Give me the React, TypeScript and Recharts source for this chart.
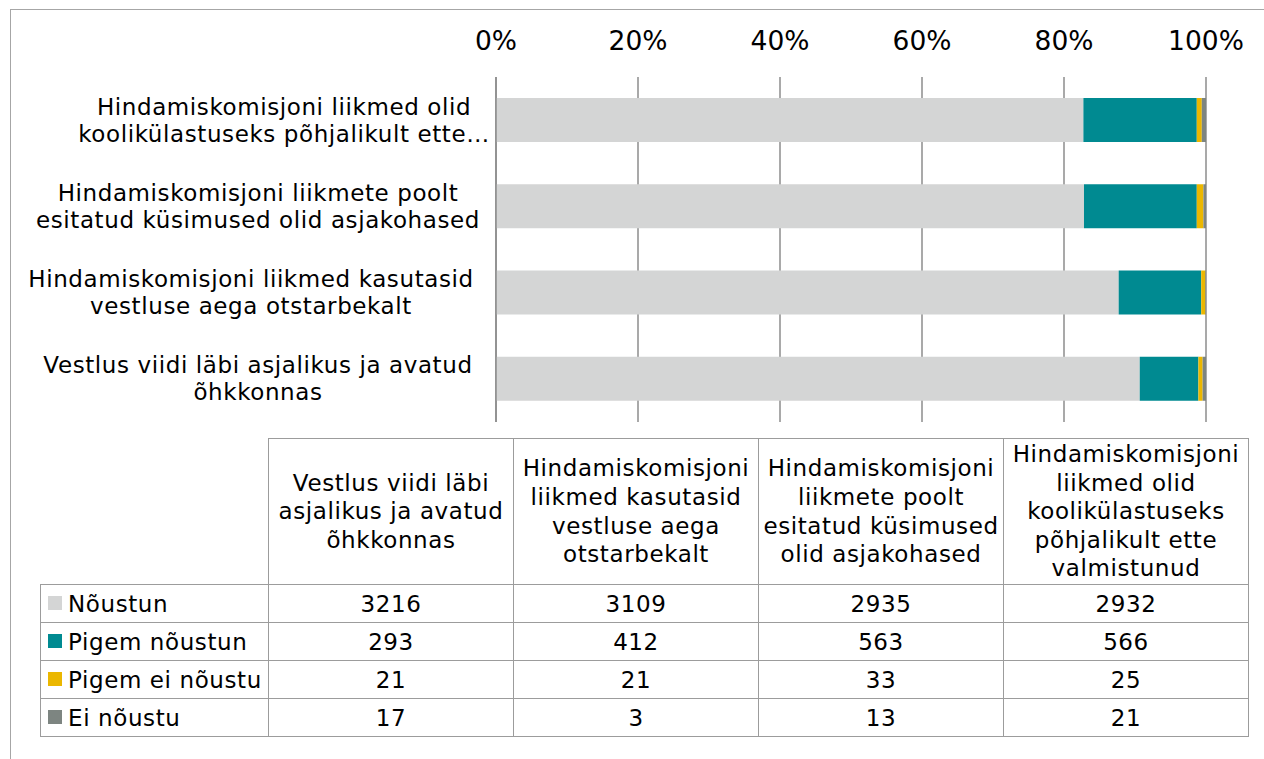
import React from "react";
import { BarChart, Bar, XAxis, YAxis, CartesianGrid } from "recharts";

const categories = [
  "Vestlus viidi läbi asjalikus ja avatud õhkkonnas",
  "Hindamiskomisjoni liikmed kasutasid vestluse aega otstarbekalt",
  "Hindamiskomisjoni liikmete poolt esitatud küsimused olid asjakohased",
  "Hindamiskomisjoni liikmed olid koolikülastuseks põhjalikult ette valmistunud",
];
const axisLabelLines = [
  ["Vestlus viidi läbi asjalikus ja avatud", "õhkkonnas"],
  ["Hindamiskomisjoni liikmed kasutasid", "vestluse aega otstarbekalt"],
  ["Hindamiskomisjoni liikmete poolt", "esitatud küsimused olid asjakohased"],
  ["Hindamiskomisjoni liikmed olid", "koolikülastuseks põhjalikult ette…"],
];
const tableHeaderLines = [
  ["Vestlus viidi läbi", "asjalikus ja avatud", "õhkkonnas"],
  ["Hindamiskomisjoni", "liikmed kasutasid", "vestluse aega", "otstarbekalt"],
  ["Hindamiskomisjoni", "liikmete poolt", "esitatud küsimused", "olid asjakohased"],
  ["Hindamiskomisjoni", "liikmed olid", "koolikülastuseks", "põhjalikult ette", "valmistunud"],
];
const seriesNames = ["Nõustun", "Pigem nõustun", "Pigem ei nõustu", "Ei nõustu"];
const noustun = [3216, 3109, 2935, 2932];
const pigemNoustun = [293, 412, 563, 566];
const pigemEiNoustu = [21, 21, 33, 25];
const eiNoustu = [17, 3, 13, 21];
const xTicks = [0, 0.2, 0.4, 0.6, 0.8, 1];

const seriesValues = [noustun, pigemNoustun, pigemEiNoustu, eiNoustu];
const seriesKeys = ["s0", "s1", "s2", "s3"];
const colors = ["#D4D5D5", "#008A91", "#EBB700", "#7D8581"];
// horizontal centre of each wrapped category label block
const labelCentres = [258, 251, 258, 284];

const data = categories.map((c, i) => ({
  name: c,
  idx: i,
  s0: noustun[i],
  s1: pigemNoustun[i],
  s2: pigemEiNoustu[i],
  s3: eiNoustu[i],
}));

const FONT = "'DejaVu Sans', Verdana, sans-serif";

const CatTick = (props: any) => {
  const { y, payload } = props;
  const idx = categories.indexOf(payload.value);
  const lines = axisLabelLines[idx] || [payload.value];
  const lh = 27;
  const startY = y - ((lines.length - 1) * lh) / 2;
  const cx = labelCentres[idx] ?? 266;
  return (
    <g>
      {lines.map((l: string, k: number) => (
        <text
          key={k}
          x={cx}
          y={startY + k * lh}
          textAnchor="middle"
          dominantBaseline="central"
          fontFamily={FONT}
          fontSize={23}
          letterSpacing={0.6}
          fill="#000"
        >
          {l}
        </text>
      ))}
    </g>
  );
};

const PctTick = (props: any) => {
  const { x, y, payload } = props;
  return (
    <text
      x={x}
      y={y - 35}
      textAnchor="middle"
      dominantBaseline="central"
      fontFamily={FONT}
      fontSize={26.5}
      fill="#000"
    >
      {Math.round(payload.value * 100) + "%"}
    </text>
  );
};

const border = "1.5px solid #9C9C9C";

export default function App() {
  return (
    <div
      style={{
        position: "absolute",
        left: 0,
        top: 0,
        width: 1264,
        height: 759,
        background: "#fff",
        overflow: "hidden",
        fontFamily: FONT,
      }}
    >
      <div
        style={{
          position: "absolute",
          left: 10,
          top: 9,
          width: 1300,
          height: 800,
          borderLeft: "1.5px solid #A6A6A6",
          borderTop: "1.5px solid #A6A6A6",
        }}
      />
      <div style={{ position: "absolute", left: 0, top: 0 }}>
        <BarChart
          width={1264}
          height={430}
          data={data}
          layout="vertical"
          stackOffset="expand"
          margin={{ top: 37, right: 58, bottom: 8, left: 16 }}
          barSize={44}
        >
          <CartesianGrid horizontal={false} vertical={true} stroke="#8C8C8C" strokeWidth={1.5} />
          <XAxis
            type="number"
            orientation="top"
            domain={[0, 1]}
            ticks={xTicks}
            height={40}
            axisLine={false}
            tickLine={false}
            tickSize={0}
            tick={<PctTick />}
          />
          <YAxis
            type="category"
            dataKey="name"
            reversed
            width={480}
            axisLine={{ stroke: "#8C8C8C", strokeWidth: 1.5 }}
            tickLine={false}
            tickSize={0}
            interval={0}
            tick={<CatTick />}
          />
          {seriesKeys.map((k, i) => (
            <Bar
              key={k}
              dataKey={k}
              name={seriesNames[i]}
              stackId="a"
              fill={colors[i]}
              isAnimationActive={false}
            />
          ))}
        </BarChart>
      </div>
      <table
        style={{
          position: "absolute",
          left: 40,
          top: 438,
          borderCollapse: "collapse",
          fontFamily: FONT,
          fontSize: 23,
          letterSpacing: 0.6,
          color: "#000",
          tableLayout: "fixed",
        }}
      >
        <colgroup>
          <col style={{ width: 228 }} />
          {categories.map((_, i) => (
            <col key={i} style={{ width: 245 }} />
          ))}
        </colgroup>
        <tbody>
          <tr style={{ height: 146 }}>
            <td style={{ padding: 0 }} />
            {tableHeaderLines.map((lines, i) => (
              <td
                key={i}
                style={{
                  border,
                  textAlign: "center",
                  verticalAlign: "middle",
                  lineHeight: "28.6px",
                  padding: 0,
                  whiteSpace: "nowrap",
                }}
              >
                {lines.map((l, k) => (
                  <div key={k}>{l}</div>
                ))}
              </td>
            ))}
          </tr>
          {seriesValues.map((vals, si) => (
            <tr key={si} style={{ height: 38 }}>
              <td
                style={{
                  border,
                  padding: 0,
                  paddingLeft: 7,
                  whiteSpace: "nowrap",
                  verticalAlign: "middle",
                }}
              >
                <span
                  style={{
                    display: "inline-block",
                    width: 14,
                    height: 14,
                    background: colors[si],
                    marginRight: 6,
                    verticalAlign: "middle",
                    position: "relative",
                    top: -2,
                  }}
                />
                {seriesNames[si]}
              </td>
              {vals.map((v, ci) => (
                <td
                  key={ci}
                  style={{ border, textAlign: "center", padding: 0, verticalAlign: "middle" }}
                >
                  {v}
                </td>
              ))}
            </tr>
          ))}
        </tbody>
      </table>
    </div>
  );
}
